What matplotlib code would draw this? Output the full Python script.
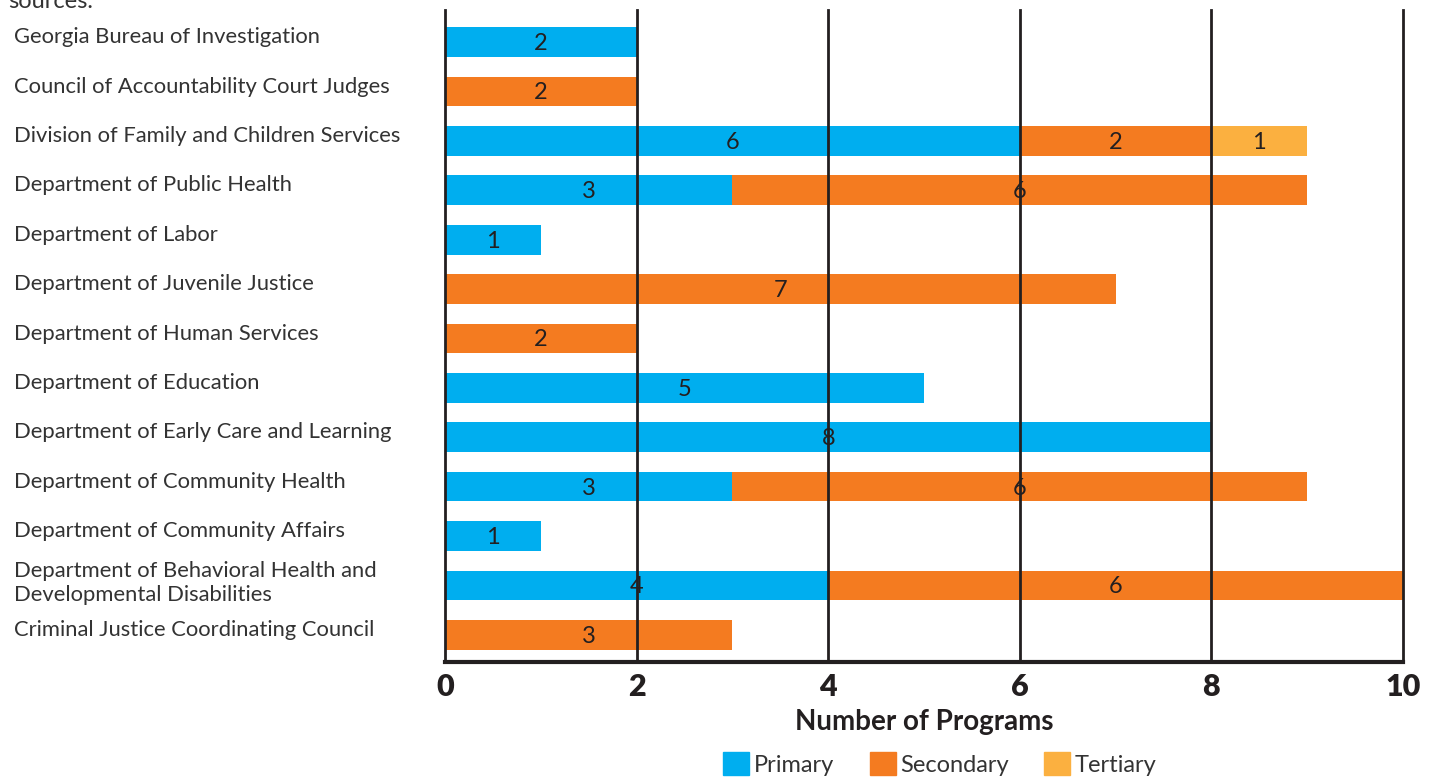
import matplotlib.pyplot as plt
from matplotlib.transforms import blended_transform_factory
from matplotlib.patches import Patch

plt.rcParams['font.family'] = ['Lato', 'DejaVu Sans']

# --- data, top to bottom ---
agencies = [
    'Georgia Bureau of Investigation',
    'Council of Accountability Court Judges',
    'Division of Family and Children Services',
    'Department of Public Health',
    'Department of Labor',
    'Department of Juvenile Justice',
    'Department of Human Services',
    'Department of Education',
    'Department of Early Care and Learning',
    'Department of Community Health',
    'Department of Community Affairs',
    'Department of Behavioral Health and\nDevelopmental Disabilities',
    'Criminal Justice Coordinating Council',
]
primary = [2, 0, 6, 3, 1, 0, 0, 5, 8, 3, 1, 4, 0]
secondary = [0, 2, 2, 6, 0, 7, 2, 0, 0, 6, 0, 6, 3]
tertiary = [0, 0, 1, 0, 0, 0, 0, 0, 0, 0, 0, 0, 0]
series_names = ['Primary', 'Secondary', 'Tertiary']
x_ticks = [0, 2, 4, 6, 8, 10]

colors = ['#00AEEF', '#F47B20', '#FBB040']
text_col = '#231F20'

fig = plt.figure(figsize=(14.32, 7.79), dpi=100)
ax = fig.add_axes([445/1432, 1 - 662/779, (1403-445)/1432, (662-10)/779])

y = list(range(len(agencies)))
left = [0] * len(agencies)
for vals, col in zip([primary, secondary, tertiary], colors):
    ax.barh(y, vals, left=left, height=0.6, color=col, zorder=2)
    for i, v in enumerate(vals):
        if v:
            ax.text(left[i] + v / 2, i + 0.03, str(v), ha='center', va='center',
                    fontsize=17, color=text_col, zorder=4)
    left = [l + v for l, v in zip(left, vals)]

# vertical grid lines drawn over the bars
for t in x_ticks[1:]:
    ax.axvline(t, color='#231F20', lw=2, zorder=3, clip_on=False)

ax.set_xlim(0, 10)
ax.set_ylim(12.55, -0.65)
ax.set_yticks([])
ax.set_xticks(x_ticks)
ax.set_xticklabels([str(t) for t in x_ticks], fontsize=22, fontweight='heavy',
                   color=text_col)
ax.tick_params(axis='x', length=0, pad=8)
ax.set_xlabel('Number of Programs', fontsize=20, fontweight='bold', color=text_col,
              labelpad=6)

for s in ['top', 'right']:
    ax.spines[s].set_visible(False)
ax.spines['left'].set_linewidth(2)
ax.spines['left'].set_color('#231F20')
ax.spines['bottom'].set_linewidth(3)
ax.spines['bottom'].set_color('#231F20')
ax.spines['left'].set_zorder(3)
ax.spines['bottom'].set_zorder(3)

trans = blended_transform_factory(fig.transFigure, ax.transData)
for i, name in enumerate(agencies):
    dy = -0.04 if '\n' in name else -0.1
    ax.text(14/1432, i + dy, name, transform=trans, ha='left', va='center',
            fontsize=15.8, color='#333333', linespacing=1.25)

fig.text(8/1432, 1 - 8/779, 'sources.', fontsize=17, color='#333333',
         ha='left', va='baseline')

handles = [Patch(color=c) for c in colors]
fig.legend(handles, series_names, loc='center', bbox_to_anchor=(940/1432, 1 - 764/779),
           ncol=3, frameon=False, fontsize=17, handlelength=1.1, handleheight=1.1,
           handletextpad=0.2, columnspacing=1.5, labelcolor='#333333')

fig.savefig('out.png', dpi=100)
